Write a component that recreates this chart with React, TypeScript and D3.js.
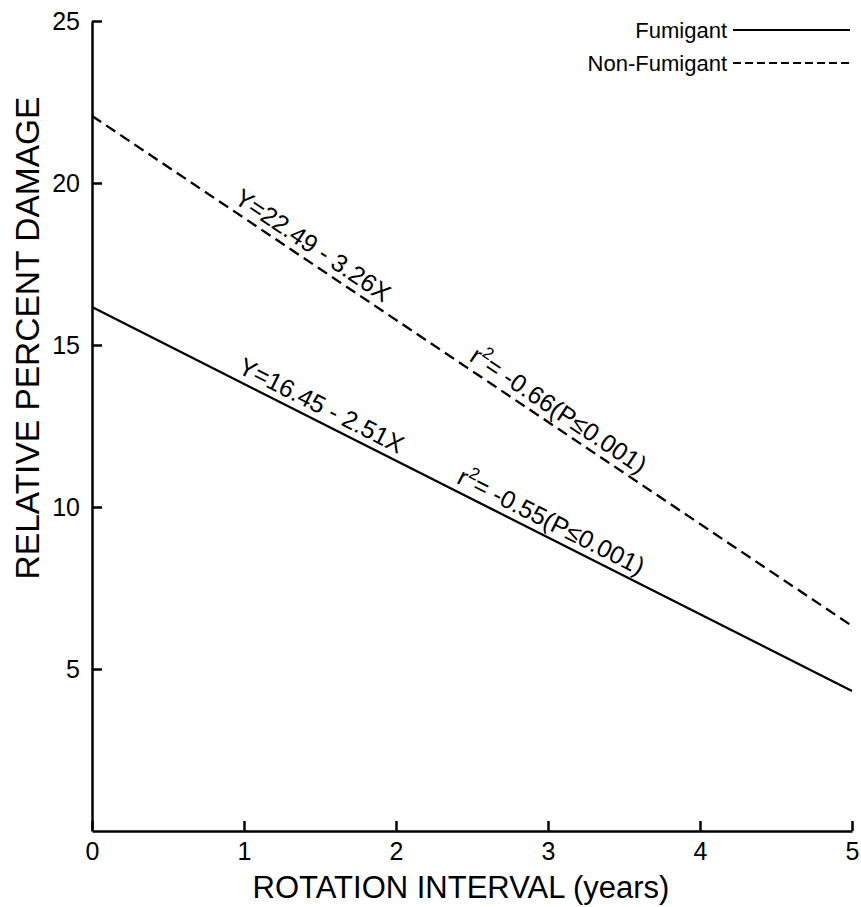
import { useRef, useEffect } from 'react';
import * as d3 from 'd3';

// endpoints of the two regression lines
const ROTATION_YEARS = [0, 5];
const FUMIGANT = [16.17, 4.32];
const NON_FUMIGANT = [22.07, 6.33];

const X_TICKS = [0, 1, 2, 3, 4, 5];
const Y_TICKS = [5, 10, 15, 20, 25];

// equation labels: which line, where along x (years) they start
const EQ_SERIES = ['non', 'non', 'fum', 'fum'];
const EQ_START = [0.9, 2.45, 0.93, 2.37];
const EQ_TEXT = ['Y=22.49 - 3.26X', '= -0.66(P≤0.001)', 'Y=16.45 - 2.51X', '= -0.55(P≤0.001)'];
const EQ_HAS_R2 = [false, true, false, true];

const LEGEND = ['Fumigant', 'Non-Fumigant'];

const W = 861;
const H = 907;
const FONT = '"Liberation Sans", Arial, sans-serif';

export default function App() {
  const svgRef = useRef<SVGSVGElement>(null);

  useEffect(() => {
    const svg = d3.select(svgRef.current);
    svg.selectAll('*').remove();

    const x = d3.scaleLinear().domain([0, 5]).range([92, 852]);
    const y = d3.scaleLinear().domain([0, 25]).range([831, 21]);

    const series: Record<string, number[]> = { fum: FUMIGANT, non: NON_FUMIGANT };

    // axes, ticks pointing inward
    const yAxis = svg
      .append('g')
      .attr('transform', `translate(${x(0)},0)`)
      .call(
        d3
          .axisLeft(y)
          .tickValues(Y_TICKS)
          .tickFormat(d3.format('d'))
          .tickSizeInner(-10)
          .tickSizeOuter(0)
          .tickPadding(12)
      );
    const xAxis = svg
      .append('g')
      .attr('transform', `translate(0,${y(0)})`)
      .call(
        d3
          .axisBottom(x)
          .tickValues(X_TICKS)
          .tickFormat(d3.format('d'))
          .tickSizeInner(-10)
          .tickSizeOuter(0)
          .tickPadding(11)
      );

    [xAxis, yAxis].forEach((a) => {
      a.selectAll('.domain, .tick line').attr('stroke', '#000').attr('stroke-width', 2.5);
      a.selectAll('.tick text')
        .attr('fill', '#000')
        .attr('font-family', FONT)
        .attr('font-size', 25);
    });

    // axis titles
    svg
      .append('text')
      .attr('x', 461)
      .attr('y', 898)
      .attr('text-anchor', 'middle')
      .attr('font-family', FONT)
      .attr('font-size', 31)
      .text('ROTATION INTERVAL (years)');

    svg
      .append('text')
      .attr('transform', 'translate(39,338) rotate(-90)')
      .attr('text-anchor', 'middle')
      .attr('font-family', FONT)
      .attr('font-size', 33.5)
      .text('RELATIVE PERCENT DAMAGE');

    // regression lines
    const line = d3
      .line<number>()
      .x((_, i) => x(ROTATION_YEARS[i]))
      .y((d) => y(d));

    svg
      .append('path')
      .datum(FUMIGANT)
      .attr('d', line)
      .attr('fill', 'none')
      .attr('stroke', '#000')
      .attr('stroke-width', 2.3);

    svg
      .append('path')
      .datum(NON_FUMIGANT)
      .attr('d', line)
      .attr('fill', 'none')
      .attr('stroke', '#000')
      .attr('stroke-width', 2.3)
      .attr('stroke-dasharray', '11,6');

    // equation labels along the lines
    EQ_TEXT.forEach((txt, i) => {
      const s = series[EQ_SERIES[i]];
      const x0 = x(ROTATION_YEARS[0]);
      const x1 = x(ROTATION_YEARS[1]);
      const y0 = y(s[0]);
      const y1 = y(s[1]);
      const ang = (Math.atan2(y1 - y0, x1 - x0) * 180) / Math.PI;
      const t = (EQ_START[i] - ROTATION_YEARS[0]) / (ROTATION_YEARS[1] - ROTATION_YEARS[0]);
      const px = x0 + t * (x1 - x0);
      const py = y0 + t * (y1 - y0);

      const label = svg
        .append('text')
        .attr('transform', `translate(${px},${py}) rotate(${ang})`)
        .attr('y', -7)
        .attr('font-family', FONT)
        .attr('font-size', 25)
        .attr('fill', '#000');

      if (EQ_HAS_R2[i]) {
        label.append('tspan').text('r');
        label.append('tspan').attr('font-size', 17).attr('dy', -11).text('2');
        label.append('tspan').attr('dy', 11).text(txt);
      } else {
        label.text(txt);
      }
    });

    // legend
    LEGEND.forEach((name, i) => {
      const ly = 38 + i * 33;
      svg
        .append('text')
        .attr('x', 727)
        .attr('y', ly)
        .attr('text-anchor', 'end')
        .attr('font-family', FONT)
        .attr('font-size', 22)
        .text(name);
      svg
        .append('line')
        .attr('x1', 733)
        .attr('x2', 850)
        .attr('y1', ly - 8)
        .attr('y2', ly - 8)
        .attr('stroke', '#000')
        .attr('stroke-width', 2)
        .attr('stroke-dasharray', i === 1 ? '8,4' : null);
    });
  }, []);

  return (
    <svg
      ref={svgRef}
      width={W}
      height={H}
      style={{ position: 'absolute', left: 0, top: 0, background: '#fff' }}
    />
  );
}
